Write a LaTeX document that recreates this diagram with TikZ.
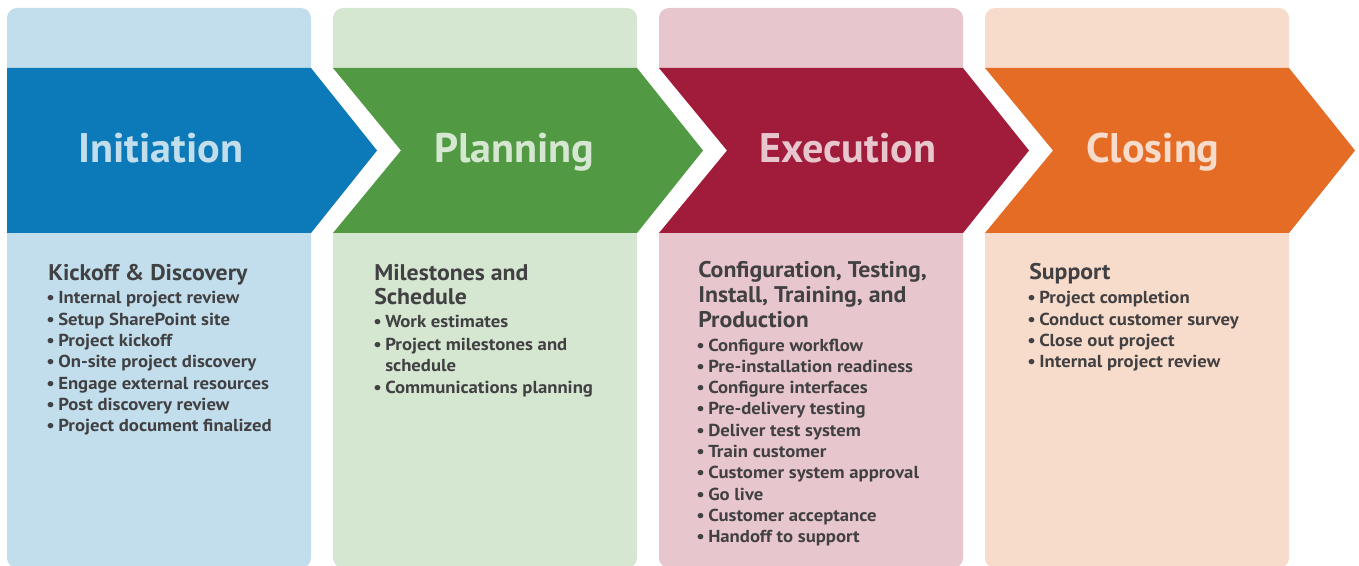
\documentclass[tikz,border=0pt]{standalone}
\usepackage{fontspec}
\setmainfont{PT Sans}
\newfontfamily\titlefont[FakeStretch=1.02]{PT Sans}
\newfontfamily\headfont[FakeStretch=1.05]{PT Sans}
\newfontfamily\itemfont[FakeStretch=1.08]{PT Sans}
\definecolor{lblue}{HTML}{C2DEEC}
\definecolor{dblue}{HTML}{0C7AB8}
\definecolor{lgreen}{HTML}{D5E6D1}
\definecolor{dgreen}{HTML}{519943}
\definecolor{lpink}{HTML}{E7C7CD}
\definecolor{dred}{HTML}{A11B3B}
\definecolor{lorange}{HTML}{F8DCCB}
\definecolor{dorange}{HTML}{E46C25}
\definecolor{ink}{HTML}{414042}
\begin{document}
\begin{tikzpicture}[x=0.75pt,y=-0.75pt,
  panel/.style={rounded corners=7.5pt},
  title/.style={anchor=base west,inner sep=0pt,font=\titlefont\fontsize{31}{36}\selectfont\bfseries},
  head/.style={anchor=base west,inner sep=0pt,text=ink,font=\headfont\fontsize{17}{20}\selectfont\bfseries},
  item/.style={anchor=base west,inner sep=0pt,text=ink,font=\itemfont\fontsize{13}{16}\selectfont\bfseries},
  bul/.style={item,execute at begin node={\llap{\textbullet\hspace{2.5pt}}}}
]
\useasboundingbox (0,0) rectangle (1359,566);
% panels
\fill[lblue,panel]   (7,8)   rectangle (311,568);
\fill[lgreen,panel]  (333,8) rectangle (637,568);
\fill[lpink,panel]   (659,8) rectangle (963,568);
\fill[lorange,panel] (985,8) rectangle (1289,568);
% white band behind the arrows
\fill[white] (0,68) rectangle (1359,233);
% arrows
\fill[dblue]   (7,68) -- (311,68) -- (377,150.5) -- (311,233) -- (7,233) -- cycle;
\fill[dgreen]  (333,68) -- (637,68) -- (703,150.5) -- (637,233) -- (333,233) -- (401,150.5) -- cycle;
\fill[dred]    (659,68) -- (963,68) -- (1029,150.5) -- (963,233) -- (659,233) -- (727,150.5) -- cycle;
\fill[dorange] (985,68) -- (1289,68) -- (1355,150.5) -- (1289,233) -- (985,233) -- (1053,150.5) -- cycle;
% titles
\node[title,text=lblue]   (t1) at (78,163)   {Initiation};
\node[title,text=lgreen]  (t2) at (434,163)  {Planning};
\node[title,text=lpink]   (t3) at (759,163)  {Execution};
\node[title,text=lorange] (t4) at (1086,163) {Closing};
% panel 1
\node[head] (h1) at (48,281) {Kickoff \& Discovery};
\foreach \t [count=\i from 0] in {Internal project review,Setup SharePoint site,Project kickoff,On-site project discovery,Engage external resources,Post discovery review,Project document finalized}
  \node[bul] (a\i) at (58,{304+21.33*\i}) {\t};
% panel 2
\node[head] (h2a) at (374,281) {Milestones and};
\node[head] (h2b) at (374,305) {Schedule};
\node[bul]  (b0) at (385,328) {Work estimates};
\node[bul]  (b1) at (385,350) {Project milestones and};
\node[item] (b2) at (385,371.5) {schedule};
\node[bul]  (b3) at (385,393) {Communications planning};
% panel 3
\node[head] (h3a) at (698,277.5) {Configuration, Testing,};
\node[head] (h3b) at (698,302.5) {Install, Training, and};
\node[head] (h3c) at (698,327.5) {Production};
\foreach \t [count=\i from 0] in {Configure workflow,Pre-installation readiness,Configure interfaces,Pre-delivery testing,Deliver test system,Train customer,Customer system approval,Go live,Customer acceptance,Handoff to support}
  \node[bul] (c\i) at (708,{351+21.33*\i}) {\t};
% panel 4
\node[head] (h4) at (1029,280) {Support};
\foreach \t [count=\i from 0] in {Project completion,Conduct customer survey,Close out project,Internal project review}
  \node[bul] (d\i) at (1039,{304+21.33*\i}) {\t};
\end{tikzpicture}
\end{document}
